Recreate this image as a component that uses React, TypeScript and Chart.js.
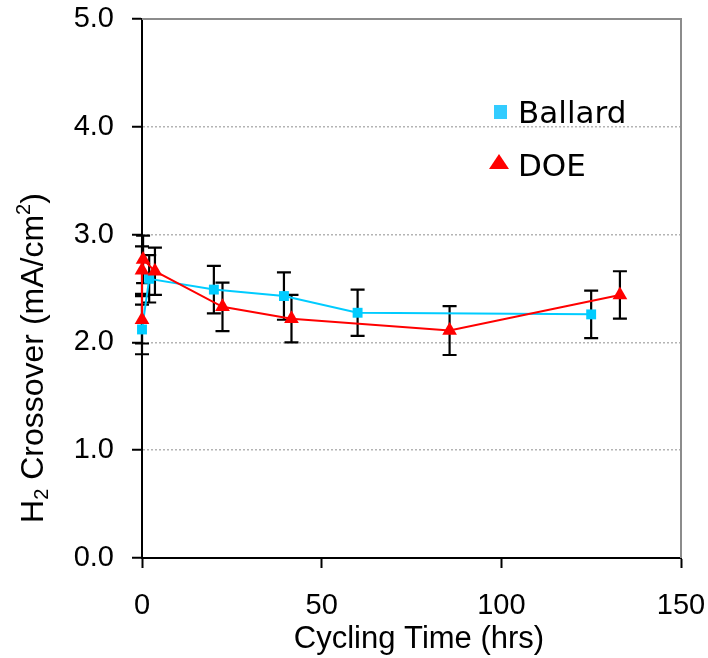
import React, { useEffect, useRef } from "react";
import { Chart, registerables } from "chart.js";

Chart.register(...registerables);

const seriesNames = ["Ballard", "DOE"];
const ballardX = [0, 2, 20, 39.5, 60, 125];
const ballardY = [2.12, 2.59, 2.49, 2.43, 2.275, 2.26];
const ballardErr = [0.23, 0.22, 0.22, 0.22, 0.215, 0.22];
const doeX = [0, 0, 0.3, 3.6, 22.4, 41.6, 85.6, 133];
const doeY = [2.21, 2.67, 2.77, 2.66, 2.33, 2.22, 2.11, 2.44];
const doeErr = [0.22, 0.22, 0.22, 0.22, 0.225, 0.22, 0.227, 0.22];
const yTicks = [0, 1, 2, 3, 4, 5];
const xTicks = [0, 50, 100, 150];
const xTitle = "Cycling Time (hrs)";

const tickFont = "'Liberation Sans', Arial, sans-serif";

const errorBarPlugin = {
  id: "errorBars",
  beforeDatasetsDraw(chart: any) {
    const { ctx, chartArea } = chart;
    const xs = chart.scales.x;
    const ys = chart.scales.y;
    ctx.save();
    ctx.strokeStyle = "#8c8c8c";
    ctx.lineWidth = 2;
    ctx.beginPath();
    ctx.moveTo(chartArea.left, chartArea.top);
    ctx.lineTo(chartArea.right, chartArea.top);
    ctx.lineTo(chartArea.right, chartArea.bottom);
    ctx.stroke();
    ctx.restore();

    ctx.save();
    ctx.strokeStyle = "#000";
    ctx.lineWidth = 2.2;
    chart.data.datasets.forEach((ds: any) => {
      const errs: number[] = ds.errors || [];
      ds.data.forEach((p: any, i: number) => {
        const e = errs[i];
        if (!e) return;
        const px = xs.getPixelForValue(p.x);
        const top = ys.getPixelForValue(p.y + e);
        const bot = ys.getPixelForValue(p.y - e);
        const cw = 7;
        ctx.beginPath();
        ctx.moveTo(px, top);
        ctx.lineTo(px, bot);
        ctx.moveTo(px - cw, top);
        ctx.lineTo(px + cw, top);
        ctx.moveTo(px - cw, bot);
        ctx.lineTo(px + cw, bot);
        ctx.stroke();
      });
    });
    ctx.restore();
  },
};

const textPlugin = {
  id: "customText",
  afterDraw(chart: any) {
    const { ctx } = chart;
    ctx.save();
    ctx.fillStyle = "#000";
    ctx.font = "31px 'Liberation Sans', Arial, sans-serif";
    ctx.textAlign = "center";
    ctx.textBaseline = "alphabetic";
    ctx.fillText(xTitle, 419, 648);

    const big = "32px 'Liberation Sans', Arial, sans-serif";
    const small = "20px 'Liberation Sans', Arial, sans-serif";
    const pieces = [
      { t: "H", f: big, dy: 0 },
      { t: "2", f: small, dy: 5 },
      { t: " Crossover (mA/cm", f: big, dy: 0 },
      { t: "2", f: small, dy: -13 },
      { t: ")", f: big, dy: 0 },
    ];
    let total = 0;
    pieces.forEach((p) => {
      ctx.font = p.f;
      total += ctx.measureText(p.t).width;
    });
    ctx.translate(43, 358);
    ctx.rotate(-Math.PI / 2);
    ctx.textAlign = "left";
    let cx = -total / 2;
    pieces.forEach((p) => {
      ctx.font = p.f;
      ctx.fillText(p.t, cx, p.dy);
      cx += ctx.measureText(p.t).width;
    });
    ctx.restore();

    ctx.save();
    ctx.font = "31px 'DejaVu Sans', sans-serif";
    ctx.textAlign = "left";
    ctx.textBaseline = "alphabetic";
    ctx.fillStyle = "#33ccff";
    ctx.fillRect(494, 105, 13, 14);
    ctx.fillStyle = "#000";
    ctx.fillText(chart.data.datasets[0].label, 518, 123);
    ctx.fillStyle = "#ff0000";
    ctx.beginPath();
    ctx.moveTo(499, 154);
    ctx.lineTo(509, 169);
    ctx.lineTo(489, 169);
    ctx.closePath();
    ctx.fill();
    ctx.fillStyle = "#000";
    ctx.fillText(chart.data.datasets[1].label, 518, 176);
    ctx.restore();
  },
};

const zeroPad = (s: any) => {
  s.paddingTop = 0;
  s.paddingBottom = 0;
  s.paddingLeft = 0;
  s.paddingRight = 0;
};

export default function App() {
  const ref = useRef<HTMLCanvasElement>(null);
  useEffect(() => {
    document.body.style.margin = "0";
    const canvas = ref.current!;
    const chart = new Chart(canvas, {
      type: "scatter",
      data: {
        datasets: [
          {
            label: seriesNames[0],
            data: ballardX.map((x, i) => ({ x, y: ballardY[i] })),
            errors: ballardErr,
            showLine: true,
            borderColor: "#00ccff",
            backgroundColor: "#00ccff",
            borderWidth: 2,
            pointStyle: "rect",
            pointRadius: 7,
            pointBorderWidth: 0,
            clip: false,
            order: 2,
          } as any,
          {
            label: seriesNames[1],
            data: doeX.map((x, i) => ({ x, y: doeY[i] })),
            errors: doeErr,
            showLine: true,
            borderColor: "#ff0000",
            backgroundColor: "#ff0000",
            borderWidth: 2,
            pointStyle: "triangle",
            pointRadius: 8.5,
            pointBorderWidth: 0,
            clip: false,
            order: 1,
          } as any,
        ],
      },
      options: {
        animation: false,
        responsive: false,
        events: [],
        layout: { padding: { left: 0, right: 27, top: 19, bottom: 0 } },
        plugins: {
          legend: { display: false },
          tooltip: { enabled: false },
        },
        scales: {
          x: {
            type: "linear",
            min: 0,
            max: 150,
            afterBuildTicks: (s: any) => {
              s.ticks = xTicks.map((v) => ({ value: v }));
            },
            afterFit: (s: any) => {
              s.height = 100;
              zeroPad(s);
            },
            ticks: {
              color: "#000",
              font: { family: tickFont, size: 29 },
              padding: 21,
              maxRotation: 0,
              callback: (v: any) => String(v),
            },
            grid: {
              drawOnChartArea: false,
              drawTicks: true,
              tickLength: 10,
              tickColor: "#000",
              tickWidth: 2,
            },
            border: { display: true, color: "#000", width: 2 },
          },
          y: {
            type: "linear",
            min: 0,
            max: 5,
            afterBuildTicks: (s: any) => {
              s.ticks = yTicks.map((v) => ({ value: v }));
            },
            afterFit: (s: any) => {
              s.width = 142;
              zeroPad(s);
            },
            ticks: {
              color: "#000",
              font: { family: tickFont, size: 29 },
              padding: 18,
              callback: (v: any) => Number(v).toFixed(1),
            },
            grid: {
              color: (c: any) =>
                c.tick && (c.tick.value === 0 || c.tick.value === 5)
                  ? "rgba(0,0,0,0)"
                  : "#b4b4b4",
              lineWidth: 1.5,
              drawTicks: true,
              tickLength: 10,
              tickColor: "#000",
              tickWidth: 2,
              tickBorderDash: [],
            },
            border: { display: true, color: "#000", width: 2, dash: [2, 2] },
          },
        },
      } as any,
      plugins: [errorBarPlugin, textPlugin],
    });
    return () => chart.destroy();
  }, []);
  return (
    <div style={{ width: 708, height: 658 }}>
      <canvas ref={ref} width={708} height={658} style={{ display: "block" }} />
    </div>
  );
}
